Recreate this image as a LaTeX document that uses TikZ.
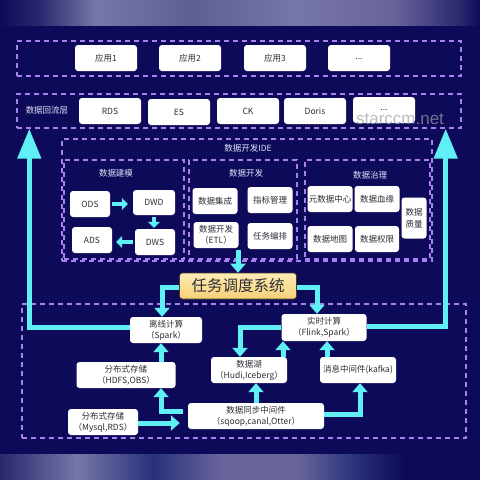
\documentclass[tikz,border=0pt]{standalone}
\usepackage{fontspec}
\setmainfont{Noto Sans CJK SC}
\newfontfamily\wmfont{Liberation Sans}
\usetikzlibrary{arrows.meta}
\definecolor{bg}{RGB}{14,10,90}
\definecolor{dash}{RGB}{168,128,240}
\definecolor{cy}{RGB}{94,240,245}
\definecolor{txt}{RGB}{45,45,55}
\definecolor{lbltxt}{RGB}{225,225,248}
\definecolor{bandA}{RGB}{40,40,110}
\definecolor{bandB}{RGB}{118,118,168}
\definecolor{bandC}{RGB}{95,95,150}
\definecolor{bandD}{RGB}{40,50,122}
\definecolor{bandE}{RGB}{105,100,155}
\pgfdeclarehorizontalshading{topband}{100bp}{color(0bp)=(bg); color(25bp)=(bg); color(29bp)=(bandA); color(35bp)=(bandB); color(45bp)=(bandC); color(56bp)=(bandB); color(66bp)=(bandE); color(73bp)=(bandA); color(75bp)=(bg); color(100bp)=(bg)}
\pgfdeclarehorizontalshading{botband}{100bp}{color(0bp)=(bg); color(25bp)=(bandA); color(33bp)=(bandB); color(41bp)=(bandD); color(48bp)=(bandE); color(56bp)=(bandE); color(62bp)=(bandD); color(67bp)=(bg); color(100bp)=(bg)}
\begin{document}
\begin{tikzpicture}[x=1pt,y=-1pt,
  wbox/.style={fill=white, rounded corners=3pt, text=txt, font=\fontsize{8.5}{11}\selectfont, align=center, inner sep=0pt, minimum height=26pt},
  dbox/.style={draw=dash, dash pattern=on 5pt off 4pt, line width=1.4pt, inner sep=0pt},
  lbl/.style={text=lbltxt, font=\fontsize{8.5}{10}\selectfont, inner sep=0pt},
  arr/.style={draw=cy, line width=5pt, -{Triangle[width=15pt,length=9pt]}},
  sarr/.style={draw=cy, line width=4pt, -{Triangle[width=12pt,length=6pt]}},
  bigarr/.style={draw=cy, line width=5pt, -{Triangle[width=23pt,length=30pt]}},
  taskbox/.style={top color={rgb,255:red,253;green,236;blue,182}, bottom color={rgb,255:red,247;green,208;blue,118}, draw={rgb,255:red,70;green,60;blue,40}, line width=0.6pt, rounded corners=3pt, text=txt, font=\fontsize{15.5}{16}\selectfont, inner sep=0pt, minimum width=117pt, minimum height=26pt}
]
\useasboundingbox (0,0) rectangle (480,480);
\fill[bg] (0,0) rectangle (480,480);
\shade[shading=topband] (0,0) rectangle (480,25);
\shade[shading=botband] (0,454) rectangle (480,480);

% containers
\node[dbox, minimum width=444pt, minimum height=35pt] (apps) at (239,58.5) {};
\node[dbox, minimum width=444pt, minimum height=34pt] (back) at (239,111) {};
\node[dbox, minimum width=370pt, minimum height=122pt] (ide) at (247,200) {};
\node[dbox, minimum width=120pt, minimum height=99pt] (model) at (124,209.5) {};
\node[dbox, minimum width=108pt, minimum height=99pt] (dev) at (243,209.5) {};
\node[dbox, minimum width=125pt, minimum height=99pt] (gov) at (367.5,209.5) {};
\node[dbox, minimum width=444pt, minimum height=134pt] (bottom) at (244,371) {};

% labels
\node[lbl] (backlbl) at (47,110) {数据回流层};
\node[lbl] (idelbl) at (248,148) {数据开发IDE};
\node[lbl] (modellbl) at (116,173) {数据建模};
\node[lbl] (devlbl) at (246,173) {数据开发};
\node[lbl] (govlbl) at (370,175) {数据治理};

% apps
\node[wbox, minimum width=62pt] (app1) at (106,58) {应用1};
\node[wbox, minimum width=62pt] (app2) at (190,58) {应用2};
\node[wbox, minimum width=62pt] (app3) at (275,58) {应用3};
\node[wbox, minimum width=62pt] (app4) at (359,58) {\raisebox{-3pt}{...}};

% return layer
\node[wbox, minimum width=62pt] (rds) at (110,111) {RDS};
\node[wbox, minimum width=62pt] (es) at (179,112) {ES};
\node[wbox, minimum width=62pt] (ck) at (248,111) {CK};
\node[wbox, minimum width=62pt] (doris) at (315,111) {Doris};
\node[wbox, minimum width=62pt] (more) at (384,110) {...};

% watermark
\node[text=gray!75, opacity=0.7, font=\wmfont\fontsize{17}{17}\selectfont, inner sep=0pt] (wm) at (400,119) {starccm.net};

% modelling
\node[wbox, minimum width=40pt] (ods) at (90,204) {ODS};
\node[wbox, minimum width=42pt, minimum height=25pt] (dwd) at (154,202.5) {DWD};
\node[wbox, minimum width=40pt] (ads) at (92,240) {ADS};
\node[wbox, minimum width=40pt] (dws) at (155,242) {DWS};

% development
\node[wbox, minimum width=45pt] (integ) at (215,201) {数据集成};
\node[wbox, minimum width=45pt] (metric) at (270,200) {指标管理};
\node[wbox, minimum width=45pt] (etl) at (216,235) {数据开发\\（ETL）};
\node[wbox, minimum width=45pt] (orch) at (270,236) {任务编排};

% governance
\node[wbox, minimum width=45pt] (meta) at (330,199) {元数据中心};
\node[wbox, minimum width=45pt] (lineage) at (377,199) {数据血缘};
\node[wbox, minimum width=45pt] (map) at (330,239) {数据地图};
\node[wbox, minimum width=44pt] (perm) at (377,239) {数据权限};
\node[wbox, minimum width=25pt, minimum height=41pt, font=\fontsize{8.5}{12}\selectfont] (quality) at (414,218) {数据\\质量};

% scheduler
\node[taskbox] (task) at (238,286) {任务调度系统};

% bottom layer
\node[wbox, minimum width=72pt] (offline) at (166,330) {离线计算\\（Spark）};
\node[wbox, minimum width=99pt] (hdfs) at (126,375) {分布式存储\\（HDFS,OBS）};
\node[wbox, minimum width=70pt] (mysql) at (103,422) {分布式存储\\（Mysql,RDS）};
\node[wbox, minimum width=136pt] (sync) at (256,416) {数据同步中间件\\（sqoop,canal,Otter）};
\node[wbox, minimum width=76pt] (lake) at (249,370) {数据湖\\（Hudi,Iceberg）};
\node[wbox, minimum width=76pt] (msg) at (358,370) {消息中间件(kafka)};
\node[wbox, minimum width=85pt, minimum height=27pt] (realtime) at (324,327.5) {实时计算\\（Flink,Spark）};

% arrows in modelling
\draw[sarr, shorten <=2pt, shorten >=5pt] (ods.east) -- (ods.east -| dwd.west);
\draw[sarr, shorten <=2pt, shorten >=1pt] (dwd.south) -- (dwd.south |- dws.north);
\draw[sarr, shorten <=2pt, shorten >=4pt] (dws.west) -- (dws.west -| ads.east);

% ETL -> scheduler
\draw[arr] ([yshift=-2pt]task.north |- etl.south) -- (task.north);

% scheduler -> offline / realtime
\draw[arr] ([yshift=-1pt]task.west) -| ([xshift=-4pt]offline.north);
\draw[arr] ([yshift=-1pt]task.east) -| ([xshift=-7pt]realtime.north);

% realtime <-> lake, msg -> realtime
\draw[arr] (realtime.west) -| ([xshift=-9pt]lake.north);
\draw[arr] ([xshift=-41pt]realtime.south |- lake.north) -- ([xshift=-41pt]realtime.south);
\draw[arr] ([xshift=3pt]realtime.south |- msg.north) -- ([xshift=3pt]realtime.south);

% sync -> lake / msg
\draw[arr] (sync.north) -- (sync.north |- lake.south);
\draw[arr] ([yshift=2pt]sync.east) -| ([xshift=2pt]msg.south);

% mysql -> sync
\draw[arr, shorten >=8pt] ([yshift=-1pt]mysql.east) -- ([yshift=-1pt]mysql.east -| sync.west);

% sync -> hdfs, hdfs -> offline
\draw[arr, shorten <=5pt] ([yshift=5pt]sync.west) -| ([xshift=35pt]hdfs.south);
\draw[arr] ([xshift=-5pt]offline.south |- hdfs.north) -- ([xshift=-5pt]offline.south);

% big return arrows
\draw[bigarr] ([yshift=3pt]offline.west) -| ([xshift=13pt]back.south west);
\draw[bigarr] ([yshift=1pt]realtime.east) -| ([xshift=-16pt]back.south east);
\end{tikzpicture}
\end{document}
